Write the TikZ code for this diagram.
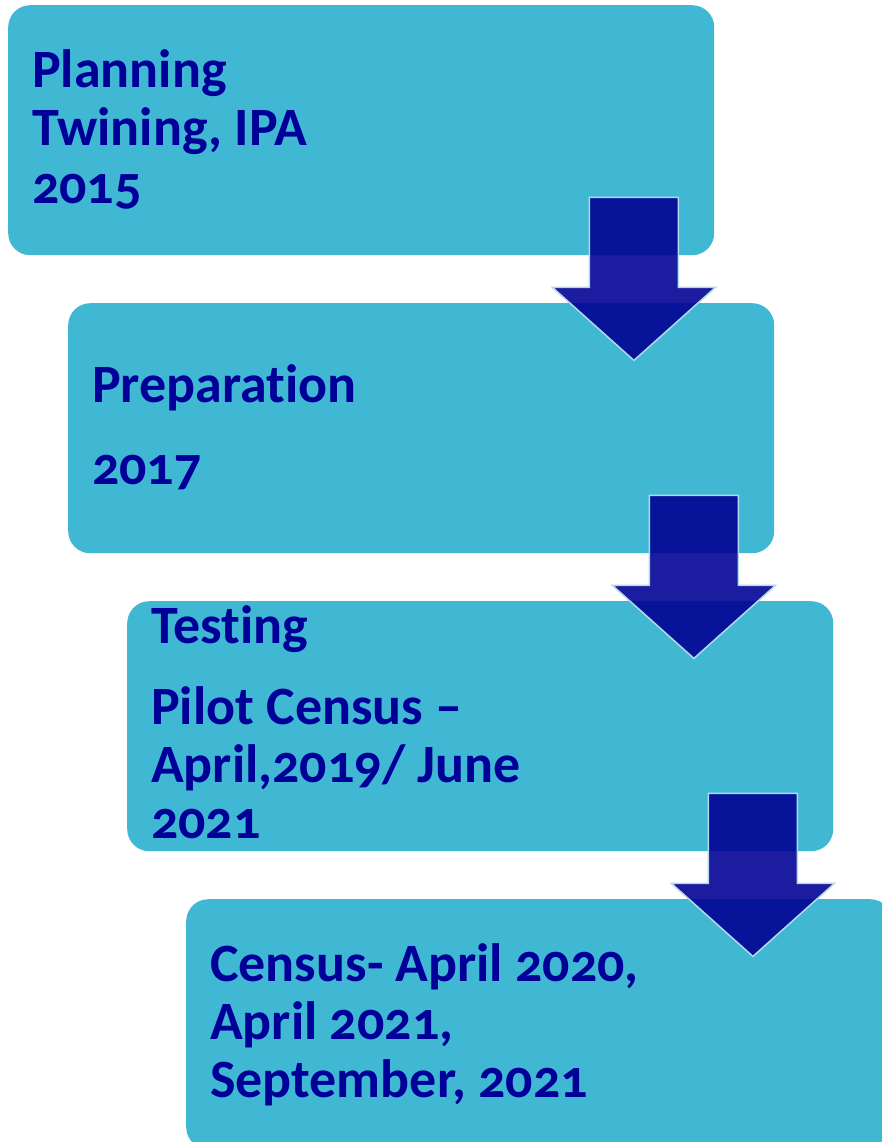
\documentclass[tikz,border=0pt]{standalone}
\usepackage{fontspec}
\setmainfont{Carlito}[Numbers=OldStyle, Ligatures=NoCommon]
\usetikzlibrary{positioning}
\definecolor{boxteal}{RGB}{65,184,211}
\definecolor{textnavy}{RGB}{0,0,153}
\definecolor{arrownavy}{RGB}{0,0,148}
\definecolor{arrowedge}{RGB}{178,218,234}
\tikzset{
    stage/.style={
           rectangle, rounded corners=22pt,
           fill=boxteal,
           minimum width=706pt,
           minimum height=250pt,
           anchor=north west
           },
    caption/.style={
           anchor=base west,
           align=left,
           inner sep=0pt,
           text=textnavy,
           font=\fontsize{54}{58}\bfseries\selectfont
           },
    blockarrow/.style={
           fill=arrownavy, fill opacity=0.89,
           draw=arrowedge, line width=1.5pt
           }
}

\begin{document}
\begin{tikzpicture}[x=1pt, y=-1pt]
   \useasboundingbox (0,0) rectangle (881,1142);
   % the four stages
   \node[stage] (plan) at (8,5) {};
   \node[stage] (prep) at (68,303) {};
   \node[stage] (test) at (127,601) {};
   \node[stage] (cens) at (186,899) {};
   % base anchor = baseline of the last line
   \node[caption] (plantxt) at (32,204) {Planning\\Twining, IPA\\2015};
   \node[caption] (preptxt) at (92,484) {Preparation\\[24pt]2017};
   \node[caption] (testtxt) at (151,838) {Testing\\[23pt]Pilot Census --\\April,2019/ June\\[-2pt]2021};
   \node[caption] (censtxt) at (210,1097) {Census- April 2020,\\April 2021,\\September, 2021};
   % block arrows between stages
   \foreach \from in {plan,prep,test}
     \draw[blockarrow, shift={(\from.south east)}]
       (-125,-58) -- (-36,-58) -- (-36,32) -- (1,32) -- (-80.5,105)
       -- (-162,32) -- (-125,32) -- cycle;
\end{tikzpicture}
\end{document}
